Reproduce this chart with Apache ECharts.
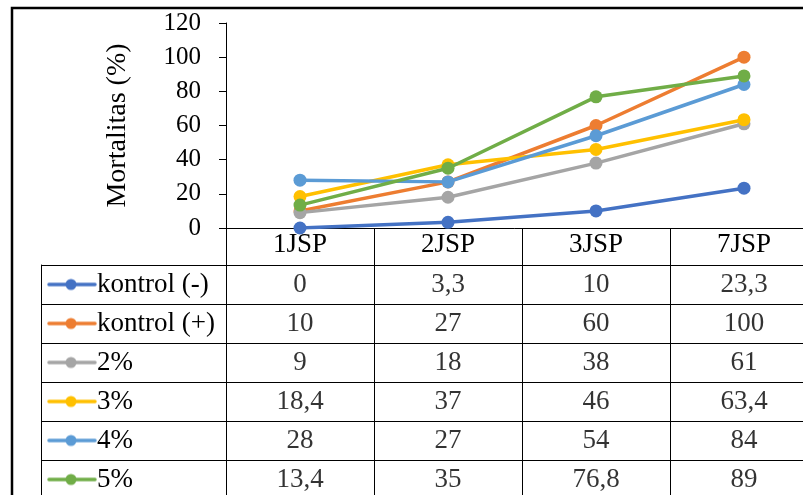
<!DOCTYPE html>
<html><head><meta charset="utf-8">
<script src="https://cdn.jsdelivr.net/npm/echarts@6/dist/echarts.min.js"></script>
<style>html,body{margin:0;padding:0;background:#fff}#c{width:803px;height:495px}</style>
</head><body><div id="c"></div>
<script>
const categories = ['1JSP', '2JSP', '3JSP', '7JSP'];
const seriesNames = ['kontrol (-)', 'kontrol (+)', '2%', '3%', '4%', '5%'];
const kontrolNeg = [0, 3.3, 10, 23.3];
const kontrolPos = [10, 27, 60, 100];
const p2 = [9, 18, 38, 61];
const p3 = [18.4, 37, 46, 63.4];
const p4 = [28, 27, 54, 84];
const p5 = [13.4, 35, 76.8, 89];
const yTicks = { min: 0, max: 120, interval: 20 };
const yTitle = 'Mortalitas (%)';

const allValues = [kontrolNeg, kontrolPos, p2, p3, p4, p5];
const colors = ['#4472C4', '#ED7D31', '#A5A5A5', '#FFC000', '#5B9BD5', '#70AD47'];
const FONT = "'Liberation Serif', 'Times New Roman', serif";
const FS_TICK = 25;
const FS_TAB = 27;
const FS_TITLE = 28;

function makeIcon(color) {
  const cv = document.createElement('canvas');
  cv.width = 50; cv.height = 14;
  const ctx = cv.getContext('2d');
  ctx.strokeStyle = color; ctx.lineWidth = 3.5; ctx.lineCap = 'round';
  ctx.beginPath(); ctx.moveTo(2, 7); ctx.lineTo(48, 7); ctx.stroke();
  ctx.fillStyle = color;
  ctx.beginPath(); ctx.arc(24, 7, 5.5, 0, Math.PI * 2); ctx.fill();
  return cv;
}
const rich = { t: { fontSize: FS_TAB, fontFamily: FONT, color: '#000' } };
colors.forEach((c, i) => { rich['ic' + i] = { width: 50, height: 14, backgroundColor: { image: makeIcon(c) } }; });

const lineSeries = seriesNames.map((n, i) => ({
  name: n, type: 'line', xAxisIndex: 0, yAxisIndex: 0,
  data: allValues[i], symbol: 'circle', symbolSize: 13,
  lineStyle: { color: colors[i], width: 3.5 },
  itemStyle: { color: colors[i] }, z: 3 + i
}));

const cellData = [];
allValues.forEach((arr, r) => arr.forEach((v, c) => cellData.push([c, r, v])));

const chart = echarts.init(document.getElementById('c'));
chart.setOption({
  animation: false,
  backgroundColor: '#fff',
  graphic: [{ type: 'rect', shape: { x: 12, y: 8, width: 900, height: 600 },
    style: { fill: 'none', stroke: '#000', lineWidth: 2.5 }, z: 100 }],
  grid: [
    { left: 226, width: 592, top: 23, height: 205, outerBoundsMode: 'none', containLabel: false },
    { left: 226, width: 592, top: 265, height: 234, outerBoundsMode: 'none', containLabel: false }
  ],
  xAxis: [
    { type: 'category', gridIndex: 0, data: categories, boundaryGap: true,
      axisLine: { lineStyle: { color: '#000', width: 1 } },
      axisTick: { show: true, length: 300, interval: 0, alignWithLabel: false, lineStyle: { color: '#000', width: 1 } },
      axisLabel: { fontSize: FS_TAB, fontFamily: FONT, color: '#000', margin: 3, interval: 0 } },
    { type: 'category', gridIndex: 1, data: categories, boundaryGap: true,
      axisLine: { show: false }, axisTick: { show: false }, axisLabel: { show: false }, splitLine: { show: false } }
  ],
  yAxis: [
    { type: 'value', gridIndex: 0, min: yTicks.min, max: yTicks.max, interval: yTicks.interval,
      name: yTitle, nameLocation: 'middle', nameGap: 94, nameRotate: 90,
      nameTextStyle: { fontSize: FS_TITLE, fontFamily: FONT, color: '#000' },
      axisLine: { show: true, lineStyle: { color: '#000', width: 1 } },
      axisTick: { show: true, length: 7, lineStyle: { color: '#000' } },
      axisLabel: { fontSize: FS_TICK, fontFamily: FONT, color: '#000', margin: 25 },
      splitLine: { show: false } },
    { type: 'category', gridIndex: 1, data: seriesNames, inverse: true, boundaryGap: true,
      axisLine: { show: false },
      axisTick: { show: true, length: 185, interval: 0, alignWithLabel: false, lineStyle: { color: '#000', width: 1 } },
      splitLine: { show: true, interval: 0, lineStyle: { color: '#000', width: 1 } },
      axisLabel: { interval: 0, align: 'left', margin: 179,
        formatter: (v, i) => '{ic' + i + '|}{t|' + v + '}', rich: rich } },
    { type: 'category', gridIndex: 1, data: seriesNames, inverse: true, position: 'left', offset: 185,
      axisLine: { show: true, lineStyle: { color: '#000', width: 1 } },
      axisTick: { show: false }, axisLabel: { show: false } }
  ],
  series: lineSeries.concat([{
    type: 'scatter', xAxisIndex: 1, yAxisIndex: 1, data: cellData,
    symbolSize: 1, itemStyle: { color: 'rgba(0,0,0,0)' }, silent: true,
    label: { show: true, position: 'inside', fontSize: FS_TAB, fontFamily: FONT, color: '#000',
      formatter: p => String(p.value[2]).replace('.', ',') }
  }])
});
</script></body></html>
